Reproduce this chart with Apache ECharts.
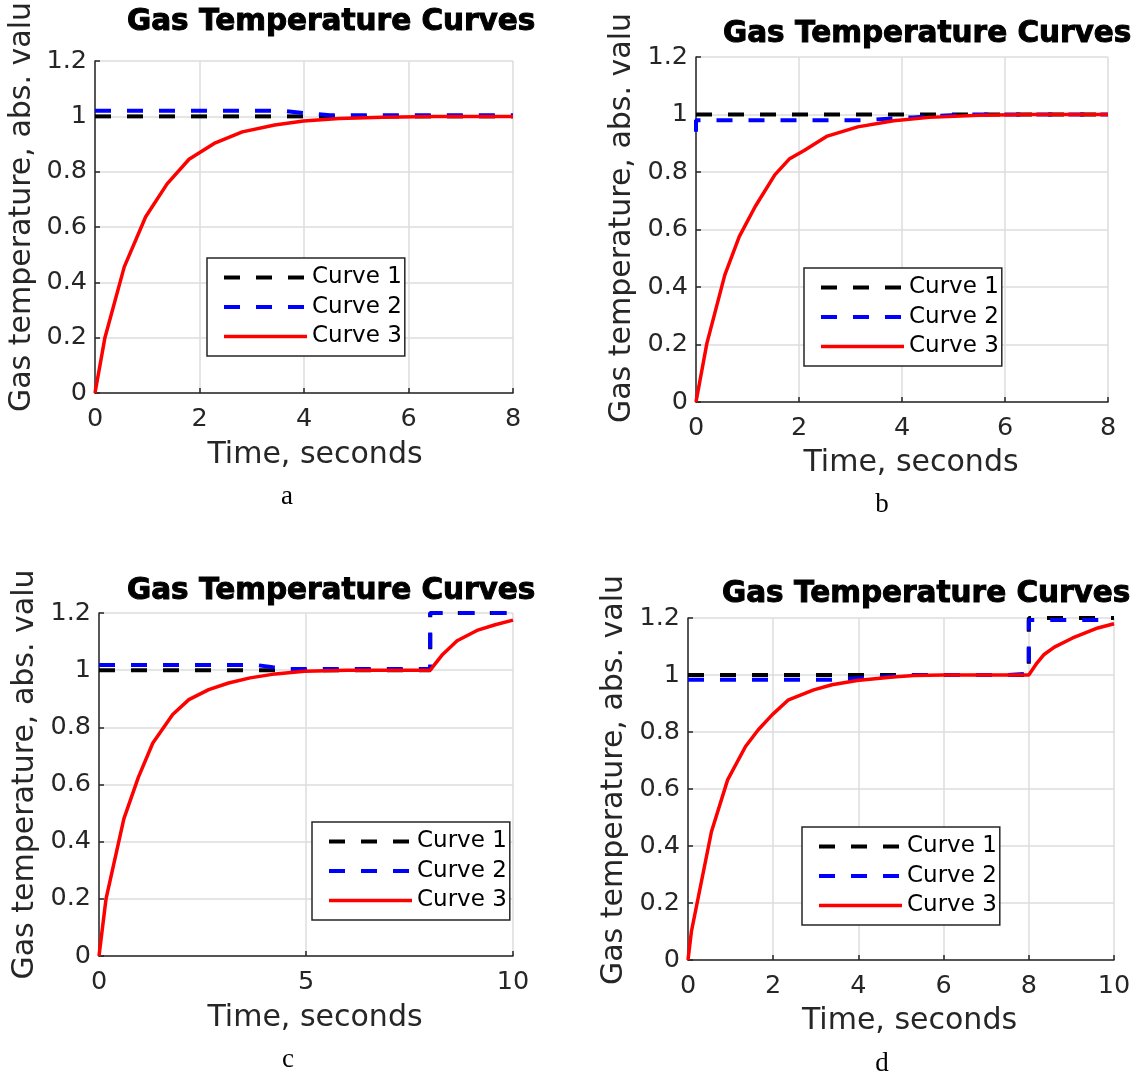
<!DOCTYPE html>
<html>
<head>
<meta charset="utf-8">
<script src="https://cdn.jsdelivr.net/npm/echarts@6/dist/echarts.min.js"></script>
<style>
html,body{margin:0;padding:0;background:#fff;}
#chart{width:1134px;height:1077px;}
</style>
</head>
<body>
<div id="chart"></div>
<script>
// ---------- DATA ----------
const seriesNames = ['Curve 1', 'Curve 2', 'Curve 3'];
const titleText = 'Gas Temperature Curves';
const xName = 'Time, seconds';
const yName = 'Gas temperature, abs. valu';
const captions = ['a', 'b', 'c', 'd'];

// panel a
const aT1 = [0, 8];
const aV1 = [1, 1];
const aT2 = [0, 3.6, 4.0, 4.5, 8];
const aV2 = [1.02, 1.02, 1.012, 1.004, 1.004];
const aT3 = [0, 0.19, 0.56, 0.97, 1.38, 1.8, 2.28, 2.82, 3.44, 3.99, 4.67, 5.5, 6.5, 8];
const aV3 = [0, 0.2, 0.456, 0.637, 0.756, 0.845, 0.902, 0.944, 0.969, 0.983, 0.992, 0.997, 1.0, 1.0];

// panel b
const bT1 = [0, 8];
const bV1 = [1, 1];
const bT2 = [0, 0, 3.2, 4.2, 5.2, 8];
const bV2 = [0.94, 0.98, 0.98, 0.99, 1.0, 1.0];
const bT3 = [0, 0.21, 0.56, 0.84, 1.15, 1.53, 1.81, 2.1, 2.55, 3.14, 3.84, 4.53, 5.5, 6.5, 8];
const bV3 = [0, 0.203, 0.442, 0.575, 0.68, 0.79, 0.845, 0.875, 0.925, 0.957, 0.978, 0.99, 0.997, 1.0, 1.0];

// panel c
const cT1 = [0, 8, 8, 10];
const cV1 = [1, 1, 1.2, 1.2];
const cT2 = [0, 3.8, 4.2, 4.6, 8, 8, 10];
const cV2 = [1.018, 1.018, 1.01, 1.004, 1.004, 1.2, 1.2];
const cT3 = [0, 0.17, 0.6, 0.95, 1.3, 1.78, 2.17, 2.65, 3.13, 3.65, 4.26, 4.96, 6, 8, 8.3, 8.65, 9.13, 9.57, 10];
const cV3 = [0, 0.2, 0.48, 0.625, 0.745, 0.845, 0.897, 0.932, 0.955, 0.973, 0.987, 0.996, 1.0, 1.0, 1.055, 1.103, 1.139, 1.159, 1.175];

// panel d
const dT1 = [0, 8, 8, 10];
const dV1 = [1, 1, 1.2, 1.2];
const dT2 = [0, 3.3, 4.5, 5.3, 7.5, 8, 8, 10];
const dV2 = [0.983, 0.983, 0.993, 1.0, 1.0, 1.005, 1.193, 1.193];
const dT3 = [0, 0.08, 0.55, 0.93, 1.35, 1.65, 1.98, 2.36, 2.95, 3.38, 3.97, 4.81, 5.3, 6, 8, 8.19, 8.35, 8.6, 9.03, 9.62, 10];
const dV3 = [0, 0.1, 0.45, 0.632, 0.749, 0.808, 0.861, 0.913, 0.948, 0.966, 0.981, 0.993, 0.998, 1.0, 1.0, 1.042, 1.071, 1.098, 1.13, 1.165, 1.18];

// axis ranges
const xMax = [8, 8, 10, 10];
const xStep = [2, 2, 5, 2];
const yMin = 0, yMax = 1.2, yStep = 0.2;

// ---------- LAYOUT ----------
const grids = [
  {left: 95, top: 47, width: 418, height: 346},
  {left: 696, top: 57, width: 412, height: 345},
  {left: 99, top: 613, width: 414, height: 343},
  {left: 688, top: 618, width: 426, height: 342}
];
const titlePos = [{left: 127, top: 7}, {left: 723, top: 19}, {left: 127, top: 576}, {left: 722, top: 579}];
const legendPos = [{left: 207, top: 258}, {left: 804, top: 268}, {left: 312, top: 822}, {left: 802, top: 827}];
const yNameGap = [58, 59, 59, 59];
const yNameShift = [40, 23, 20, 18];
const xNameGap = [47, 46, 47, 46];
const xNameShift = [22, 18, 18, 17];
const captionPos = [[287, 497], [882, 505], [288, 1060], [882, 1064]];

const panels = [
  [[aT1, aV1], [aT2, aV2], [aT3, aV3]],
  [[bT1, bV1], [bT2, bV2], [bT3, bV3]],
  [[cT1, cV1], [cT2, cV2], [cT3, cV3]],
  [[dT1, dV1], [dT2, dV2], [dT3, dV3]]
];

const zip = (t, v) => t.map((x, i) => [x, v[i]]);
const axisColor = '#262626';
const gridColor = '#dcdcdc';
const lineStyles = [
  {color: '#000000', width: 4, type: [16, 16]},
  {color: '#0000ff', width: 4, type: [16, 16]},
  {color: '#ff0000', width: 3.5, type: 'solid'}
];

const option = {
  backgroundColor: '#ffffff',
  animation: false,
  title: titlePos.map(p => ({
    text: titleText, left: p.left, top: p.top, padding: 0,
    textStyle: {fontFamily: 'DejaVu Sans', fontWeight: 'bold', fontSize: 29.5, color: '#000',
      textBorderColor: '#000', textBorderWidth: 1}
  })),
  grid: grids.map(g => Object.assign({containLabel: false}, g)),
  xAxis: grids.map((g, i) => ({
    type: 'value', gridIndex: i, min: 0, max: xMax[i], interval: xStep[i],
    name: xName, nameLocation: 'middle', nameGap: xNameGap[i],
    nameTextStyle: {fontFamily: 'DejaVu Sans', fontSize: 30, color: axisColor, padding: [0, 0, 0, xNameShift[i]]},
    axisLine: {show: true, onZero: false, lineStyle: {color: axisColor, width: 1.5}},
    axisTick: {show: true, inside: true, length: 5, lineStyle: {color: axisColor, width: 1.5}},
    axisLabel: {fontFamily: 'DejaVu Sans', fontSize: 25.5, color: axisColor, margin: 13},
    splitLine: {show: true, lineStyle: {color: gridColor, width: 1.5}}
  })),
  yAxis: grids.map((g, i) => ({
    type: 'value', gridIndex: i, min: yMin, max: yMax, interval: yStep,
    name: yName, nameLocation: 'middle', nameRotate: 90, nameGap: yNameGap[i],
    nameTextStyle: {fontFamily: 'DejaVu Sans', fontSize: 30, color: axisColor, padding: [0, 0, 0, yNameShift[i]]},
    axisLine: {show: true, onZero: false, lineStyle: {color: axisColor, width: 1.5}},
    axisTick: {show: true, inside: true, length: 5, lineStyle: {color: axisColor, width: 1.5}},
    axisLabel: {fontFamily: 'DejaVu Sans', fontSize: 25.5, color: axisColor, margin: 8,
      formatter: v => String(Math.round(v * 10) / 10)},
    splitLine: {show: true, lineStyle: {color: gridColor, width: 1.5}}
  })),
  legend: legendPos.map(p => ({
    data: seriesNames.map((n, k) => ({
      name: n,
      lineStyle: {color: lineStyles[k].color, width: lineStyles[k].width, type: lineStyles[k].type}
    })),
    left: p.left, top: p.top, orient: 'vertical',
    itemWidth: 83, itemHeight: 14, itemGap: 6.5,
    padding: [8, 3, 8, 15],
    borderColor: axisColor, borderWidth: 1.5, backgroundColor: '#ffffff',
    selectedMode: false,
    itemStyle: {opacity: 0},
    textStyle: {fontFamily: 'DejaVu Sans', fontSize: 23, color: '#000'}
  })),
  graphic: captions.map((c, i) => ({
    type: 'text', x: captionPos[i][0], y: captionPos[i][1],
    style: {text: c, font: '27px "Liberation Serif"', fill: '#000', textAlign: 'center', textVerticalAlign: 'middle'}
  })),
  series: []
};

panels.forEach((panel, i) => {
  panel.forEach((pair, k) => {
    option.series.push({
      type: 'line', name: seriesNames[k], xAxisIndex: i, yAxisIndex: i,
      data: zip(pair[0], pair[1]), symbol: 'none', showSymbol: false,
      lineStyle: lineStyles[k], itemStyle: {color: lineStyles[k].color},
      z: 2 + k
    });
  });
});

const chart = echarts.init(document.getElementById('chart'), null, {renderer: 'canvas'});
chart.setOption(option);
</script>
</body>
</html>
